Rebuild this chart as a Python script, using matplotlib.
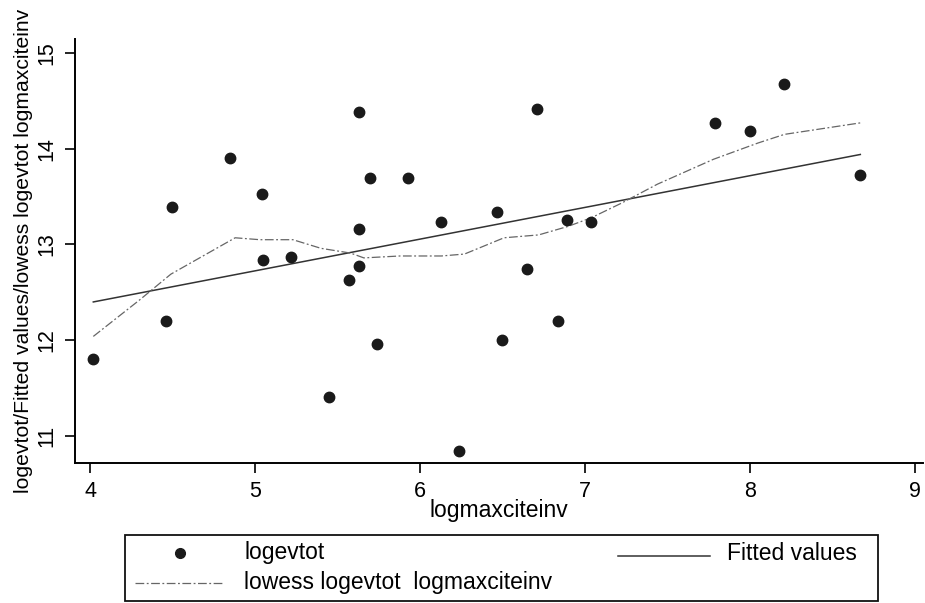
import matplotlib
matplotlib.use("Agg")
import matplotlib.pyplot as plt
from matplotlib.lines import Line2D
from matplotlib.patches import Rectangle

plt.rcParams["font.family"] = ["Liberation Sans", "DejaVu Sans"]

# scatter data
logmaxciteinv = [4.02, 4.46, 4.50, 4.85, 5.04, 5.05, 5.22, 5.45, 5.57, 5.63,
                 5.63, 5.63, 5.70, 5.74, 5.93, 6.13, 6.24, 6.47, 6.50, 6.65,
                 6.71, 6.84, 6.89, 7.04, 7.79, 8.00, 8.21, 8.67]
logevtot = [11.80, 12.20, 13.39, 13.90, 13.53, 12.84, 12.87, 11.41, 12.63, 14.38,
            13.16, 12.78, 13.69, 11.96, 13.69, 13.23, 10.84, 13.34, 12.00, 12.74,
            14.42, 12.20, 13.26, 13.24, 14.27, 14.18, 14.68, 13.73]

# fitted values (straight line, end points)
fit_x = [4.02, 8.67]
fit_y = [12.40, 13.94]

# lowess curve
low_x = [4.02, 4.30, 4.49, 4.88, 5.03, 5.23, 5.40, 5.58, 5.66, 5.88, 6.13,
         6.27, 6.51, 6.72, 6.90, 7.04, 7.22, 7.44, 7.78, 8.05, 8.21, 8.67]
low_y = [12.04, 12.42, 12.69, 13.07, 13.05, 13.05, 12.96, 12.91, 12.86, 12.88, 12.88,
         12.90, 13.07, 13.10, 13.19, 13.28, 13.43, 13.63, 13.89, 14.06, 14.15, 14.27]

DOT = "#1a1a1a"
FIT = "#333333"
LOW = "#666666"
LOW_DASH = (0, (7, 2, 1.5, 2))

W, H = 925, 603
fig = plt.figure(figsize=(W / 100, H / 100), dpi=100)
ax = fig.add_axes([75 / W, 1 - 463 / H, 848 / W, (463 - 39) / H])

ax.plot(logmaxciteinv, logevtot, "o", color=DOT, markersize=7.5, zorder=3)
ax.plot(fit_x, fit_y, "-", color=FIT, linewidth=1.1)
ax.plot(low_x, low_y, color=LOW, linewidth=0.9, linestyle=LOW_DASH)

ax.set_xlim(3.909, 9.05)
ax.set_ylim(10.718, 15.146)
ax.set_xticks([4, 5, 6, 7, 8, 9])
ax.set_yticks([11, 12, 13, 14, 15])
ax.spines["top"].set_visible(False)
ax.spines["right"].set_visible(False)
for s in ("left", "bottom"):
    ax.spines[s].set_linewidth(1.4)
ax.tick_params(direction="out", length=7, width=1.2, labelsize=15.5, pad=6)
for lab in ax.get_yticklabels():
    lab.set_rotation(90)
    lab.set_va("center")

ax.set_xlabel("logmaxciteinv", fontsize=16.5, labelpad=-2)
ax.set_ylabel("logevtot/Fitted values/lowess logevtot logmaxciteinv", fontsize=15.2, labelpad=2)

# legend box drawn in figure pixels
def fx(px):
    return px / W

def fy(py):
    return 1 - py / H

LEG_FS = 16.5
fig.patches.append(Rectangle((fx(125), fy(601)), fx(878) - fx(125), fy(535) - fy(601),
                             transform=fig.transFigure, fill=False,
                             edgecolor="#111111", linewidth=1.3))
fig.lines.append(Line2D([fx(180)], [fy(553)], marker="o", color=DOT,
                        markersize=7, transform=fig.transFigure))
fig.text(fx(244), fy(553), "logevtot", fontsize=LEG_FS, va="center")
fig.lines.append(Line2D([fx(618), fx(710)], [fy(556), fy(556)], color=FIT,
                        linewidth=1.1, transform=fig.transFigure))
fig.text(fx(727), fy(554), "Fitted values", fontsize=LEG_FS, va="center")
fig.lines.append(Line2D([fx(135), fx(222)], [fy(583), fy(583)], color=LOW,
                        linewidth=0.9, linestyle=LOW_DASH,
                        transform=fig.transFigure))
fig.text(fx(244), fy(583), "lowess logevtot  logmaxciteinv", fontsize=LEG_FS, va="center")

fig.savefig("out.png", dpi=100)
